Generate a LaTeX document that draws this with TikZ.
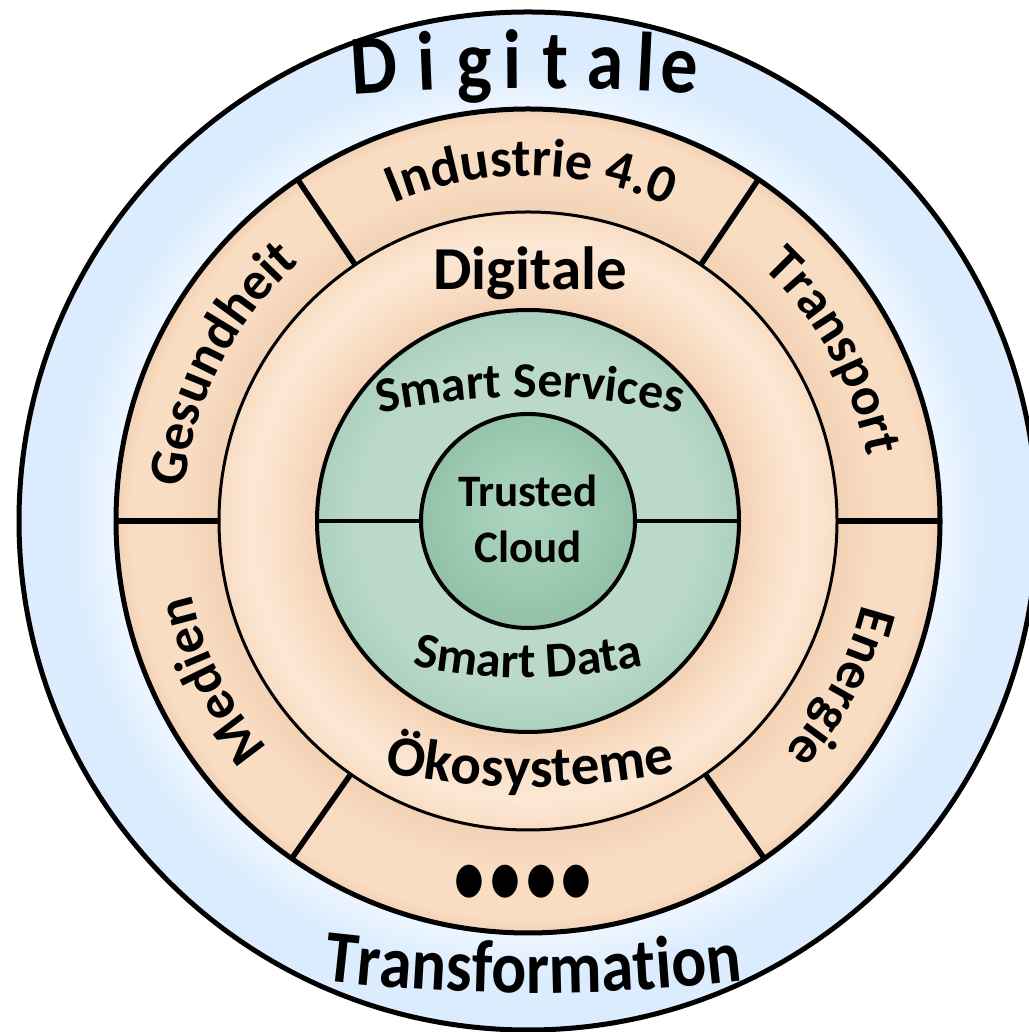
\documentclass[tikz,border=0pt]{standalone}
\usepackage{fontspec}
\setmainfont{Carlito}
\newfontfamily\condfont{Carlito}[FakeStretch=0.88]
\usetikzlibrary{decorations.text,calc}
\definecolor{ringblue}{HTML}{DAECFD}
\definecolor{blueglow}{HTML}{EEF6FF}
\definecolor{peach}{HTML}{F9DDC3}
\definecolor{peachlight}{HTML}{FCE8D6}
\definecolor{peachedge}{HTML}{F3D2B5}
\definecolor{greenout}{HTML}{BAD9C9}
\definecolor{greenedge}{HTML}{ADD0BE}
\definecolor{greenin}{HTML}{A2CDB6}
\definecolor{greeninlight}{HTML}{AED6C1}
\definecolor{greeninedge}{HTML}{93C2A8}
\pgfdeclareradialshading{blueshade}{\pgfpoint{0bp}{0bp}}{color(0bp)=(blueglow); color(20.2bp)=(blueglow); color(22.5bp)=(ringblue); color(25bp)=(ringblue); color(50bp)=(ringblue)}
\pgfdeclareradialshading{peachshade}{\pgfpoint{0bp}{0bp}}{color(0bp)=(peach); color(18.8bp)=(peachedge); color(21.5bp)=(peach); color(24bp)=(peach); color(25bp)=(peachedge); color(50bp)=(peachedge)}
\pgfdeclareradialshading{innershade}{\pgfpoint{0bp}{0bp}}{color(0bp)=(peachedge); color(17.1bp)=(peachedge); color(19.5bp)=(peach); color(22.5bp)=(peachlight); color(25bp)=(peach); color(50bp)=(peach)}
\pgfdeclareradialshading{greenshade}{\pgfpoint{0bp}{0bp}}{color(0bp)=(greenout); color(20bp)=(greenout); color(25bp)=(greenedge); color(50bp)=(greenedge)}
\pgfdeclareradialshading{coreshade}{\pgfpoint{0bp}{3bp}}{color(0bp)=(greeninlight); color(12bp)=(greenin); color(25bp)=(greeninedge); color(50bp)=(greeninedge)}
\newcommand\sectfont{\fontsize{54}{54}\selectfont\bfseries}
\newcommand\midfont{\fontsize{61}{61}\selectfont\bfseries}
\newcommand\okofont{\fontsize{57}{57}\selectfont\bfseries}
\newcommand\smartfont{\fontsize{50}{50}\selectfont\bfseries}
\newcommand\transfont{\condfont\fontsize{74}{74}\selectfont\bfseries}
\begin{document}
\begin{tikzpicture}[x=1pt,y=1pt,
  thickline/.style={line width=5pt},
  divider/.style={line width=5.5pt},
  arclabel/.style={decorate, decoration={text along path, text align=center, text={#1}}},
  outerletter/.style={font=\condfont\fontsize{84}{84}\selectfont\bfseries, anchor=base, inner sep=0pt},
  plainlabel/.style={anchor=base, inner sep=0pt}
]
\useasboundingbox (0,0) rectangle (1028,1032);
\coordinate (C) at (528,511);
% outer blue disc
\shade[shading=blueshade] (C) circle[radius=509];
\draw[thickline] (C) circle[radius=509];
% peach sector ring
\shade[shading=peachshade] (C) circle[radius=412];
\draw[thickline] (C) circle[radius=412];
\foreach \a in {0,56,124,180,235,305}
  \draw[divider] ($(C)+(\a:310)$) -- ($(C)+(\a:412)$);
% inner ring
\shade[shading=innershade] (C) circle[radius=309];
\draw[line width=3pt] (C) circle[radius=309];
% green circle
\shade[shading=greenshade] (C) circle[radius=211];
\draw[line width=4pt] (C) circle[radius=211];
\draw[line width=4pt] ($(C)+(-211,0)$) -- ($(C)+(-107,0)$);
\draw[line width=4pt] ($(C)+(107,0)$) -- ($(C)+(211,0)$);
\shade[shading=coreshade] (C) circle[radius=107];
\draw[line width=4pt] (C) circle[radius=107];
% sector labels (clockwise arcs, tops outward)
\path[arclabel={|\sectfont|Industrie 4.0}] ($(C)+(129.5:345)$) arc[start angle=129.5, end angle=49.5, radius=345];
\path[arclabel={|\sectfont|Transport}] ($(C)+(69:345)$) arc[start angle=69, end angle=-11, radius=345];
\path[arclabel={|\sectfont|Energie}] ($(C)+(12:345)$) arc[start angle=12, end angle=-68, radius=345];
\path[arclabel={|\sectfont|Medien}] ($(C)+(246.7:345)$) arc[start angle=246.7, end angle=166.7, radius=345];
\path[arclabel={|\sectfont|Gesundheit}] ($(C)+(193:345)$) arc[start angle=193, end angle=113, radius=345];
% inner ring labels
\node[plainlabel, font=\midfont] (dig) at (530,742) {Digitale};
\coordinate (okoC) at (530,945);
\path[arclabel={|\okofont|Ökosysteme}] ($(okoC)+(250:700)$) arc[start angle=250, end angle=290, radius=700];
% green labels
\coordinate (ssC) at (530,-65);
\path[arclabel={|\smartfont|Smart Services}] ($(ssC)+(110:700)$) arc[start angle=110, end angle=70, radius=700];
\coordinate (sdC) at (528,904);
\path[arclabel={|\smartfont|Smart Data}] ($(sdC)+(245:550)$) arc[start angle=245, end angle=295, radius=550];
\node[plainlabel, font=\fontsize{45}{45}\selectfont\bfseries] (tc1) at (528,525) {Trusted};
\node[plainlabel, font=\fontsize{45}{45}\selectfont\bfseries] (tc2) at (528,469) {Cloud};
% dots
\node[plainlabel, font=\fontsize{60}{60}\selectfont\bfseries, yscale=1.3] (dots) at (523,128) {•\kern6pt•\kern6pt•\kern6pt•};
% outer Digitale
\coordinate (arcO) at (528,-1456);
\foreach \ch/\ang [count=\i] in {D/93.63,i/92.39,g/91.27,i/90.36,t/89.36,a/88.16,l/87.21,e/86.42}
  \node[outerletter, rotate=\ang-90] (dg\i) at ($(arcO)+(\ang:2400)$) {\ch};
% Transformation
\coordinate (trC) at (533,1839);
\path[arclabel={|\transfont|Transformation}] ($(trC)+(258:1800)$) arc[start angle=258, end angle=282, radius=1800];
\end{tikzpicture}
\end{document}
